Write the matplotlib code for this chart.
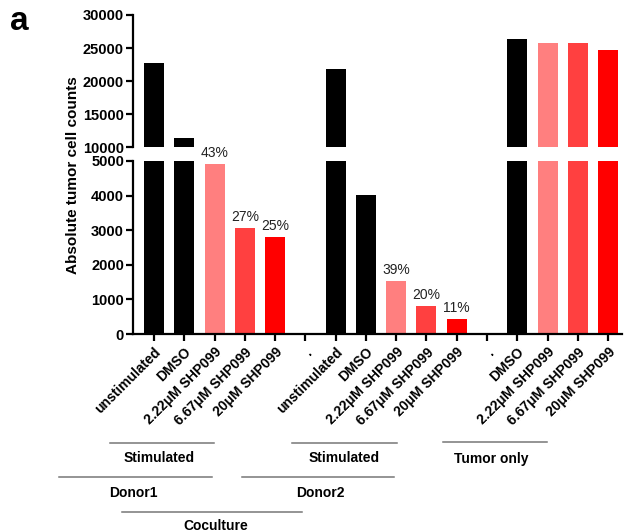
import matplotlib
matplotlib.use("Agg")
import matplotlib.pyplot as plt
import numpy as np

plt.rcParams['font.family'] = ['Liberation Sans', 'DejaVu Sans']

categories = ["unstimulated", "DMSO", "2.22\u03bcM SHP099", "6.67\u03bcM SHP099", "20\u03bcM SHP099",
              ".",
              "unstimulated", "DMSO", "2.22\u03bcM SHP099", "6.67\u03bcM SHP099", "20\u03bcM SHP099",
              ".",
              "DMSO", "2.22\u03bcM SHP099", "6.67\u03bcM SHP099", "20\u03bcM SHP099"]
values = [22700, 11350, 4900, 3050, 2790,
          0,
          21800, 4020, 1540, 800, 420,
          0,
          26400, 25700, 25700, 24750]
bar_colors = ["#000000", "#000000", "#ff7f7f", "#ff4040", "#ff0000",
              "none",
              "#000000", "#000000", "#ff7f7f", "#ff4040", "#ff0000",
              "none",
              "#000000", "#ff7f7f", "#ff4040", "#ff0000"]
pct_labels = {2: "43%", 3: "27%", 4: "25%", 8: "39%", 9: "20%", 10: "11%"}

group_labels = ["Stimulated", "Stimulated", "Tumor only", "Donor1", "Donor2", "Coculture"]
# (x0, x1, y_line, x_text, y_text) in pixels
group_pos = [(110, 214, 442.5, 159, 458.5),
             (292, 397, 442.5, 344, 458.5),
             (443, 547, 442.0, 491, 458.5),
             (59, 212, 476.5, 133, 493),
             (242, 394, 476.5, 320, 493),
             (122, 302, 512, 216, 526)]

W, H = 624, 532
fig = plt.figure(figsize=(W / 100, H / 100), dpi=100)

left = 133 / W
right = 622 / W
ax_top = fig.add_axes([left, 1 - 147 / H, right - left, (147 - 15) / H])
ax_bot = fig.add_axes([left, 1 - 334 / H, right - left, (334 - 161) / H])

x = np.arange(len(categories))
for ax in (ax_top, ax_bot):
    ax.bar(x, values, width=0.66, color=bar_colors, edgecolor="none", zorder=2)
    ax.set_xlim(-0.694, 15.46)
    for s in ("top", "right"):
        ax.spines[s].set_visible(False)
    ax.spines["left"].set_linewidth(1.6)
    ax.tick_params(axis="y", width=1.6, length=5, labelsize=10.5, pad=1.5)

ax_top.set_ylim(10000, 30000)
ax_top.set_yticks([10000, 15000, 20000, 25000, 30000])
ax_top.spines["bottom"].set_visible(False)
ax_top.set_xticks([])
for lbl in ax_top.get_yticklabels():
    lbl.set_fontweight("bold")

ax_bot.set_ylim(0, 5000)
ax_bot.set_yticks([0, 1000, 2000, 3000, 4000, 5000])
for lbl in ax_bot.get_yticklabels():
    lbl.set_fontweight("bold")
ax_bot.spines["bottom"].set_linewidth(1.6)
ax_bot.set_xticks(x)
ax_bot.set_xticklabels(categories, rotation=45, ha="right", rotation_mode="anchor",
                       fontsize=10, fontweight="bold")
ax_bot.tick_params(axis="x", width=1.6, length=5, pad=3)

for i, t in pct_labels.items():
    ax_bot.annotate(t, (x[i], values[i]), xytext=(0, 3), textcoords="offset points",
                    ha="center", va="bottom", fontsize=10, color="#222222")

fig.text(73 / W, 1 - 175 / H, "Absolute tumor cell counts", rotation=90,
         ha="center", va="center", fontsize=11, fontweight="bold")
fig.text(10 / W, 1 - 21 / H, "a", ha="left", va="center", fontsize=24, fontweight="bold")

for lab, (x0, x1, yl, xt, yt) in zip(group_labels, group_pos):
    fig.add_artist(plt.Line2D([x0 / W, x1 / W], [1 - yl / H, 1 - yl / H],
                              color="#777777", linewidth=1.1, transform=fig.transFigure))
    fig.text(xt / W, 1 - yt / H, lab, ha="center", va="center", fontsize=10, fontweight="bold")

fig.savefig("out.png", dpi=100)
